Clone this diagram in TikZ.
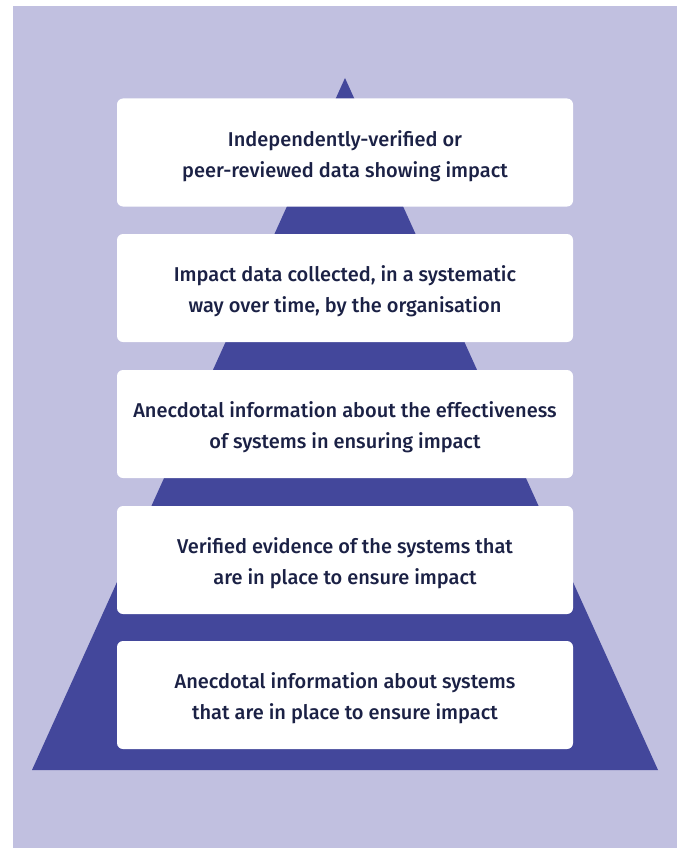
\documentclass[tikz,border=0pt]{standalone}
\usepackage{fontspec}
\setmainfont{Fira Sans}[UprightFont=* Medium]
\definecolor{bgpurple}{HTML}{C1C0E0}
\definecolor{tripurple}{HTML}{43479B}
\definecolor{navy}{HTML}{1B2145}
\begin{document}
\begin{tikzpicture}[x=1pt,y=-1pt,
  levelbox/.style={draw=none,fill=white,rounded corners=6pt,minimum width=456pt,minimum height=108pt,inner sep=0pt},
  leveltext/.style={text=navy,align=center,font=\fontsize{20}{31}\selectfont,inner sep=0pt}]
\useasboundingbox (0,0) rectangle (678,848);
\fill[white] (0,0) rectangle (678,848);
\fill[bgpurple] (13,6) rectangle (677,848);
\fill[tripurple] (32,770) -- (345,78) -- (658,770) -- cycle;
\node[levelbox] (l1) at (345,152.5) {};
\node[levelbox] (l2) at (345,288) {};
\node[levelbox] (l3) at (345,424) {};
\node[levelbox] (l4) at (345,560) {};
\node[levelbox] (l5) at (345,695) {};
\node[leveltext] (t1) at ([yshift=-3.5pt]l1.center) {Independently-verified or\\peer-reviewed data showing impact};
\node[leveltext] (t2) at ([yshift=-3.5pt]l2.center) {Impact data collected, in a systematic\\way over time, by the organisation};
\node[leveltext] (t3) at ([yshift=-3.5pt]l3.center) {Anecdotal information about the effectiveness\\of systems in ensuring impact};
\node[leveltext] (t4) at ([yshift=-3.5pt]l4.center) {Verified evidence of the systems that\\are in place to ensure impact};
\node[leveltext] (t5) at ([yshift=-3.5pt]l5.center) {Anecdotal information about systems\\that are in place to ensure impact};
\end{tikzpicture}
\end{document}
